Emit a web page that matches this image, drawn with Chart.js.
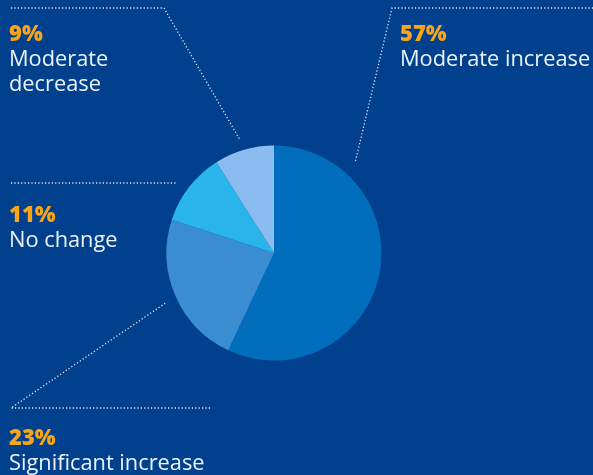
<!DOCTYPE html>
<html>
<head>
<meta charset="utf-8">
<script src="https://cdn.jsdelivr.net/npm/chart.js@4"></script>
<style>
  html, body { margin: 0; padding: 0; background: #00408d; }
  #wrap { width: 593px; height: 475px; position: relative; }
</style>
</head>
<body>
<div id="wrap"><canvas id="c" width="593" height="475"></canvas></div>
<script>
// Survey results: change in expected level
const categories = ['Moderate increase', 'Significant increase', 'No change', 'Moderate decrease'];
const shares = [57, 23, 11, 9];
const sliceColors = ['#006dbd', '#3a8dd0', '#2ab4ec', '#8bbcf0'];

// Label layout: text anchor, wrapped lines and dotted leader path
const labelLayout = [
  { x: 400, y: 41, lines: ['Moderate increase'], leader: [[593, 8], [392, 8], [355, 163]] },
  { x: 9, y: 445, lines: ['Significant increase'], leader: [[210, 408], [11, 408], [167, 302]] },
  { x: 9, y: 222, lines: ['No change'], leader: [[11, 183], [176, 183]] },
  { x: 9, y: 41, lines: ['Moderate', 'decrease'], leader: [[11, 8], [164, 8], [240, 140]] }
];

const calloutPlugin = {
  id: 'callouts',
  afterDraw(chart) {
    const ctx = chart.ctx;
    ctx.save();
    // dotted leader lines
    ctx.strokeStyle = 'rgba(255,255,255,0.9)';
    ctx.lineWidth = 1.3;
    ctx.setLineDash([1.2, 2.2]);
    labelLayout.forEach(l => {
      ctx.beginPath();
      l.leader.forEach((p, i) => i ? ctx.lineTo(p[0], p[1]) : ctx.moveTo(p[0], p[1]));
      ctx.stroke();
    });
    ctx.setLineDash([]);
    // percentage and category text
    ctx.textBaseline = 'alphabetic';
    ctx.textAlign = 'left';
    labelLayout.forEach((l, i) => {
      ctx.fillStyle = '#f9a51a';
      ctx.font = '800 22px "Open Sans"';
      ctx.fillText(shares[i] + '%', l.x, l.y);
      ctx.fillStyle = '#eef3fa';
      ctx.font = '21.8px "Open Sans"';
      l.lines.forEach((t, j) => ctx.fillText(t, l.x, l.y + 25 + j * 25));
    });
    ctx.restore();
  }
};

new Chart(document.getElementById('c'), {
  type: 'pie',
  data: {
    labels: categories,
    datasets: [{
      data: shares,
      backgroundColor: sliceColors,
      borderWidth: 0
    }]
  },
  options: {
    responsive: false,
    animation: false,
    layout: { padding: { left: 166.5, right: 211.5, top: 145.5, bottom: 114.5 } },
    plugins: { legend: { display: false }, tooltip: { enabled: false } }
  },
  plugins: [calloutPlugin]
});
</script>
</body>
</html>
